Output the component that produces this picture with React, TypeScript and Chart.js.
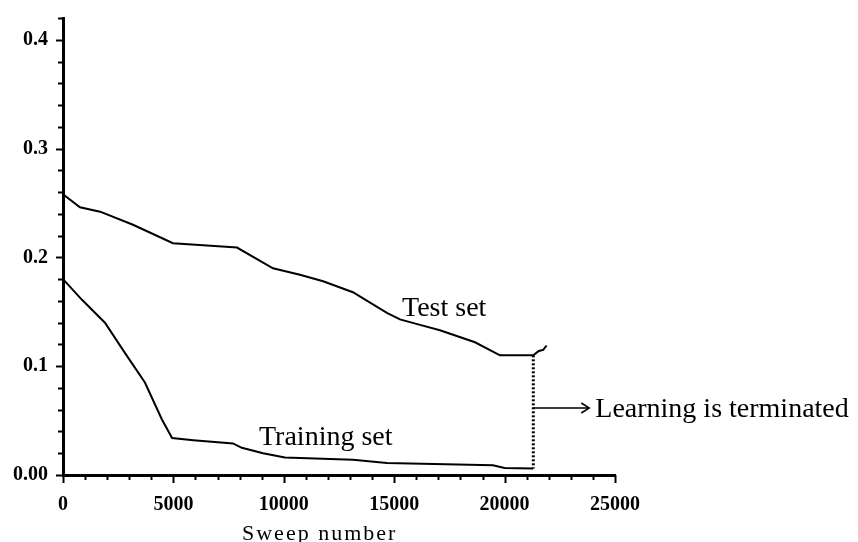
import React, { useEffect, useRef } from "react";
import { Chart, registerables } from "chart.js";

Chart.register(...registerables);

// ---- data ----
const testSweeps = [0, 770, 1680, 3170, 4980, 6520, 7880, 9510, 10730, 11780, 13130, 14670, 15260, 16170, 17070, 18660, 19790, 21300, 21550, 21750, 21900];
const testError = [0.258, 0.246, 0.242, 0.23, 0.213, 0.211, 0.209, 0.19, 0.184, 0.178, 0.168, 0.149, 0.143, 0.138, 0.133, 0.122, 0.11, 0.11, 0.114, 0.115, 0.119];

const trainSweeps = [0, 860, 1900, 2810, 3710, 4480, 4940, 5900, 7700, 8100, 9060, 10050, 13130, 14670, 19470, 20000, 21300];
const trainError = [0.18, 0.161, 0.14, 0.112, 0.085, 0.051, 0.034, 0.032, 0.029, 0.025, 0.02, 0.016, 0.014, 0.011, 0.009, 0.0065, 0.006];

const stopSweep = 21300;
const stopRange = [0.11, 0.006];

const xTickValues = [0, 5000, 10000, 15000, 20000, 25000];
const yTickLabels = ["0.00", "0.1", "0.2", "0.3", "0.4"];

const xTitle = "Sweep number";
const testLabel = "Test set";
const trainLabel = "Training set";
const stopLabel = "Learning is terminated";

const SERIF = "'Liberation Serif', 'Times New Roman', serif";

const decorPlugin = {
  id: "decor",
  afterDraw(chart: any) {
    const ctx = chart.ctx;
    const xs = chart.scales.x;
    const ys = chart.scales.y;
    ctx.save();
    ctx.strokeStyle = "#000";
    ctx.fillStyle = "#000";
    // minor/major ticks on y axis
    ctx.lineWidth = 2;
    for (let i = 0; i <= 21; i++) {
      const v = i * 0.02;
      const py = Math.round(ys.getPixelForValue(v)) + 0.5;
      const major = i % 5 === 0;
      ctx.beginPath();
      ctx.moveTo(xs.left - (major ? 7 : 5), py);
      ctx.lineTo(xs.left, py);
      ctx.stroke();
    }
    // ticks on x axis
    for (let s = 0; s <= 25000; s += 1000) {
      const px = Math.round(xs.getPixelForValue(s)) + 0.5;
      const major = s % 5000 === 0;
      ctx.beginPath();
      ctx.moveTo(px, ys.bottom);
      ctx.lineTo(px, ys.bottom + (major ? 8 : 5));
      ctx.stroke();
    }
    // annotations
    ctx.font = `28px ${SERIF}`;
    ctx.textBaseline = "alphabetic";
    ctx.textAlign = "left";
    ctx.fillText(testLabel, 402, 316);
    ctx.fillText(trainLabel, 259, 445);
    // arrow
    const ax = xs.getPixelForValue(stopSweep);
    const ay = 408;
    ctx.lineWidth = 1.5;
    ctx.beginPath();
    ctx.moveTo(ax, ay);
    ctx.lineTo(ax + 55, ay);
    ctx.moveTo(ax + 48, ay - 5);
    ctx.lineTo(ax + 56, ay);
    ctx.lineTo(ax + 48, ay + 5);
    ctx.stroke();
    ctx.fillText(stopLabel, ax + 62, 417);
    // x title
    ctx.font = `22px ${SERIF}`;
    (ctx as any).letterSpacing = "2px";
    ctx.fillText(xTitle, 242, 540);
    ctx.restore();
  },
};

export default function App() {
  const ref = useRef<HTMLCanvasElement>(null);
  useEffect(() => {
    document.body.style.margin = "0";
    const canvas = ref.current!;
    const chart = new Chart(canvas, {
      type: "line",
      data: {
        datasets: [
          {
            label: testLabel,
            data: testSweeps.map((x, i) => ({ x, y: testError[i] })),
            borderColor: "#000",
            borderWidth: 2,
            pointRadius: 0,
            tension: 0,
          },
          {
            label: trainLabel,
            data: trainSweeps.map((x, i) => ({ x, y: trainError[i] })),
            borderColor: "#000",
            borderWidth: 2,
            pointRadius: 0,
            tension: 0,
          },
          {
            label: "stop",
            data: stopRange.map((y) => ({ x: stopSweep, y })),
            borderColor: "#000",
            borderWidth: 3,
            borderDash: [2, 2],
            pointRadius: 0,
          },
        ],
      },
      options: {
        responsive: false,
        animation: false,
        layout: { padding: { top: 18, right: 243, left: 0, bottom: 0 } },
        plugins: { legend: { display: false }, tooltip: { enabled: false } },
        scales: {
          x: {
            type: "linear",
            min: 0,
            max: 25000,
            afterFit: (s: any) => {
              s.height = 67;
            },
            border: { display: true, color: "#000", width: 3 },
            grid: { display: true, drawOnChartArea: false, drawTicks: true, tickLength: 18, tickColor: "rgba(0,0,0,0)" },
            ticks: {
              stepSize: 5000,
              includeBounds: false,
              padding: 0,
              color: "#000",
              maxRotation: 0,
              font: { family: SERIF, size: 20, weight: "bold" },
              callback: (v: any) => (xTickValues.includes(v) ? String(v) : ""),
            },
          },
          y: {
            type: "linear",
            min: 0,
            max: 0.42,
            afterFit: (s: any) => {
              s.width = 63;
            },
            border: { display: true, color: "#000", width: 3 },
            grid: { display: true, drawOnChartArea: false, drawTicks: true, tickLength: 15, tickColor: "rgba(0,0,0,0)" },
            ticks: {
              stepSize: 0.1,
              includeBounds: false,
              padding: 0,
              color: "#000",
              font: { family: SERIF, size: 20, weight: "bold" },
              callback: (v: any) => {
                const i = Math.round(v * 10);
                return Math.abs(v * 10 - i) < 1e-6 ? yTickLabels[i] ?? "" : "";
              },
            },
          },
        },
      },
      plugins: [decorPlugin],
    });
    return () => chart.destroy();
  }, []);
  return (
    <div style={{ position: "absolute", left: 0, top: 0, width: 858, height: 542, background: "#fff" }}>
      <canvas ref={ref} width={858} height={542} />
    </div>
  );
}
